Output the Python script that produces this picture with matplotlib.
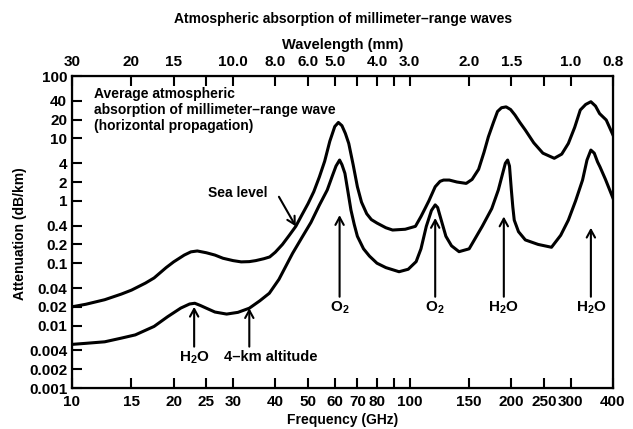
import numpy as np
import matplotlib
matplotlib.use("Agg")
import matplotlib.pyplot as plt

plt.rcParams['font.family'] = ['Liberation Sans', 'DejaVu Sans']
plt.rcParams['font.weight'] = 'bold'
plt.rcParams['mathtext.fontset'] = 'custom'
plt.rcParams['mathtext.rm'] = 'Liberation Sans:bold'
plt.rcParams['mathtext.it'] = 'Liberation Sans:italic:bold'
plt.rcParams['mathtext.bf'] = 'Liberation Sans:bold'

# sea level curve (GHz, dB/km)
sea_f = [10, 11, 12.5, 14, 15, 16.5, 17.5, 19, 20, 21.5, 22.5, 23.5, 25, 26.5, 28, 30,
         31.7, 33.5, 35, 37, 38.5, 40, 42, 44, 46, 48, 50, 52, 54, 56, 58, 60, 61.5,
         63, 64.5, 66, 68, 70, 72, 74.6, 77, 80, 85, 89, 97, 104, 108, 111, 114, 116.5,
         119, 123, 126, 131, 138, 147, 153, 160, 166, 171, 177, 182, 187, 193, 199, 205,
         212, 220, 233, 248, 268, 282, 295, 308, 320, 332, 344, 355, 365, 382, 400]
sea_a = [0.020, 0.022, 0.026, 0.032, 0.037, 0.048, 0.058, 0.085, 0.105, 0.135, 0.152,
         0.157, 0.147, 0.135, 0.12, 0.11, 0.105, 0.106, 0.11, 0.118, 0.126, 0.15, 0.2,
         0.28, 0.39, 0.6, 0.9, 1.4, 2.4, 4.3, 9, 15.5, 18, 16, 12, 8.3, 3.8, 1.68, 0.95,
         0.62, 0.5, 0.44, 0.37, 0.34, 0.35, 0.39, 0.56, 0.75, 1.0, 1.3, 1.68, 2.05, 2.15,
         2.15, 2.0, 1.9, 2.2, 3.2, 6, 10.6, 18, 27, 31, 32, 29, 23.7, 18, 13.6, 8.5, 5.8,
         4.8, 5.6, 8.3, 15, 28.5, 35, 38.7, 33, 25, 19.7, 11.3]

# 4-km altitude curve
alt_f = [10, 11, 12.5, 14, 15.4, 17.5, 19.2, 21, 22.3, 23.1, 24, 25, 26.5, 28.7, 31,
         33.5, 36, 38.4, 41, 45, 48, 51, 54, 57, 59, 60.5, 62, 63, 64.3, 65.5, 67, 68.5,
         70, 73, 76, 80, 85, 93, 99, 104.5, 108, 112, 116, 119, 121, 124, 128, 133, 140,
         150, 164, 175, 183, 188, 192, 195, 197.5, 200, 202, 204, 210, 220, 240, 263,
         280, 295, 310, 325, 335, 344, 352, 360, 366, 380, 400]
alt_a = [0.005, 0.0052, 0.0055, 0.0063, 0.0071, 0.0097, 0.0139, 0.0191, 0.0222, 0.0228,
         0.021, 0.019, 0.0165, 0.0153, 0.0163, 0.019, 0.025, 0.033, 0.055, 0.144, 0.26,
         0.45, 0.85, 1.49, 2.5, 3.6, 4.5, 3.8, 2.75, 1.5, 0.71, 0.42, 0.27, 0.17, 0.13,
         0.1, 0.085, 0.073, 0.08, 0.106, 0.17, 0.39, 0.7, 0.86, 0.78, 0.49, 0.27, 0.19,
         0.153, 0.17, 0.39, 0.75, 1.49, 2.6, 4.0, 4.5, 3.6, 1.5, 0.8, 0.49, 0.32, 0.236,
         0.2, 0.18, 0.28, 0.49, 1.0, 2.15, 4.5, 6.5, 5.8, 4.2, 3.5, 2.2, 1.1]

freq_ticks = [10, 15, 20, 25, 30, 40, 50, 60, 70, 80, 90, 100, 150, 200, 250, 300, 400]
freq_labels = ['10', '15', '20', '25', '30', '40', '50', '60', '70', '80', '', '100',
               '150', '200', '250', '300', '400']
wave_labels = ['30', '20', '15', '', '10.0', '8.0', '6.0', '5.0', '', '4.0', '', '3.0',
               '2.0', '1.5', '', '1.0', '0.8']
att_ticks = [100, 40, 20, 10, 4, 2, 1, 0.4, 0.2, 0.1, 0.04, 0.02, 0.01, 0.004, 0.002, 0.001]
att_labels = ['100', '40', '20', '10', '4', '2', '1', '0.4', '0.2', '0.1', '0.04', '0.02',
              '0.01', '0.004', '0.002', '0.001']

# absorption lines marked with arrows: (freq, tip, label)
lines_f = [62, 119, 190, 344]
lines_tip = [0.59, 0.53, 0.56, 0.37]
lines_lab = [r'$\mathregular{O_2}$', r'$\mathregular{O_2}$', r'$\mathregular{H_2O}$',
             r'$\mathregular{H_2O}$']

W, H = 633, 429
fig = plt.figure(figsize=(W / 100, H / 100), dpi=100)
ax = fig.add_axes([72 / W, 1 - 388 / H, 541 / W, 312 / H])


def fp(x, y):
    return x / W, 1 - y / H


ax.plot(sea_f, sea_a, color='black', lw=2.2, solid_joinstyle='round')
ax.plot(alt_f, alt_a, color='black', lw=2.2, solid_joinstyle='round')

ax.set_xscale('log')
ax.set_yscale('log')
ax.set_xlim(10, 400)
ax.set_ylim(0.001, 100)
ax.minorticks_off()
ax.set_xticks(freq_ticks)
ax.set_xticklabels(freq_labels)
ax.set_yticks(att_ticks)
ax.set_yticklabels(att_labels)
ax.tick_params(direction='in', length=7, width=1.5, labelsize=11, colors='black')
ax.tick_params(axis='y', pad=3.5)
ax.tick_params(axis='x', pad=5)
for s in ax.spines.values():
    s.set_linewidth(1.6)

ax2 = ax.twiny()
ax2.set_xscale('log')
ax2.set_xlim(10, 400)
ax2.minorticks_off()
ax2.set_xticks(freq_ticks)
ax2.set_xticklabels(wave_labels)
ax2.tick_params(direction='in', length=7, width=1.5, labelsize=11, pad=5)

arrow = dict(arrowstyle='->,head_length=0.55,head_width=0.3', lw=1.5, color='black',
             shrinkA=0, shrinkB=0)
for f, tip, lab in zip(lines_f, lines_tip, lines_lab):
    ax.annotate('', xy=(f, tip), xytext=(f, 0.029), arrowprops=arrow)
    ax.text(f, 0.026, lab, ha='center', va='top', fontsize=11)

ax.annotate('', xy=(23, 0.020), xytext=(23, 0.0046), arrowprops=arrow)
ax.text(23, 0.0041, r'$\mathregular{H_2O}$', ha='center', va='top', fontsize=11)
ax.annotate('', xy=(33.5, 0.019), xytext=(33.5, 0.0046), arrowprops=arrow)
ax.text(38.8, 0.0041, '4–km altitude', ha='center', va='top', fontsize=10.5)

ax.annotate('', xy=(46, 0.39), xytext=(41, 1.16), arrowprops=arrow)
ax.text(*fp(268, 193), 'Sea level', ha='right', va='center', fontsize=10,
        transform=fig.transFigure)

fig.text(*fp(94, 110), 'Average atmospheric\nabsorption of millimeter–range wave\n'
         '(horizontal propagation)', ha='left', va='center', fontsize=10,
         linespacing=1.15)

fig.text(*fp(343, 19), 'Atmospheric absorption of millimeter–range waves',
         ha='center', va='center', fontsize=10)
fig.text(*fp(343, 45), 'Wavelength (mm)', ha='center', va='center', fontsize=10.5)
fig.text(*fp(343, 420), 'Frequency (GHz)', ha='center', va='center', fontsize=10)
fig.text(*fp(20, 234), 'Attenuation (dB/km)', ha='center', va='center', fontsize=10,
         rotation=90)

fig.savefig('out.png', dpi=100)
